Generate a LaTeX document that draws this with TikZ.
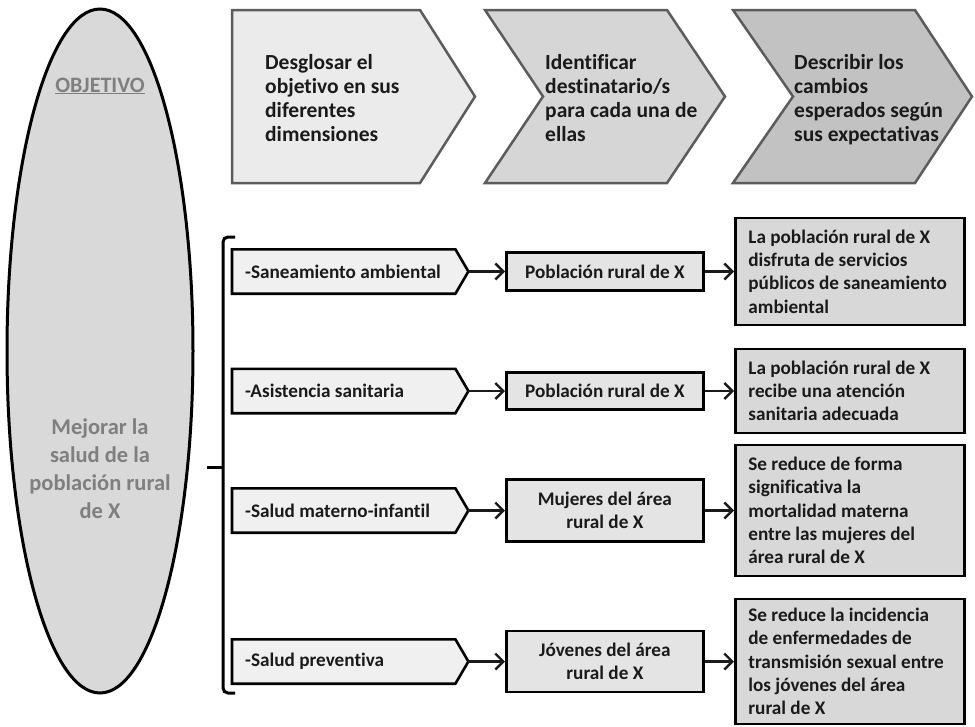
\documentclass[tikz,border=0pt]{standalone}
\usepackage{fontspec}
\setmainfont{Carlito}[Ligatures=CommonOff]
\usetikzlibrary{arrows.meta,shapes.geometric,backgrounds}

\definecolor{txt}{HTML}{1A1A1A}
\definecolor{objtxt}{HTML}{7F7F7F}
\definecolor{chevline}{HTML}{5C5C5C}
\definecolor{chevA}{HTML}{EBEBEB}
\definecolor{chevB}{HTML}{D6D6D6}
\definecolor{chevC}{HTML}{C2C2C2}
\definecolor{dimfill}{HTML}{F0F0F0}
\definecolor{destfill}{HTML}{E4E4E4}
\definecolor{chgfill}{HTML}{D8D8D8}
\definecolor{ellfill}{HTML}{D9D9D9}

\begin{document}
\begin{tikzpicture}[x=1pt,y=-1pt,
  chev/.style={draw=chevline, line width=2.5pt, line join=miter},
  headtxt/.style={anchor=north west, align=left, inner sep=0pt, text=txt,
    font=\fontsize{21.5}{24}\selectfont\bfseries},
  rowfont/.style={text=txt, font=\fontsize{19.2}{23.3}\selectfont\bfseries},
  dimbox/.style={rowfont, anchor=west, minimum width=223pt, minimum height=44pt,
    inner xsep=13pt, inner ysep=0pt, text width=197pt, align=flush left},
  dimshape/.style={draw=black, fill=dimfill, line width=2.6pt, line join=miter},
  destbox/.style={rowfont, draw=black, fill=destfill, line width=2.8pt, anchor=west,
    minimum width=197pt, inner sep=0pt, align=center},
  chgbox/.style={rowfont, draw=black, fill=chgfill, line width=2.8pt, anchor=west,
    minimum width=229pt, inner xsep=13pt, inner ysep=0pt, text width=203pt, align=flush left},
  link/.style={draw=txt, line width=2.4pt, -{Straight Barb[length=8pt,width=16pt]}},
  brace/.style={draw=black, line width=3pt, rounded corners=5pt}
]
\useasboundingbox (0,0) rectangle (975,726);

% objective ellipse
\node[ellipse, draw=black, fill=ellfill, line width=3pt, inner sep=0pt,
      minimum width=186pt, minimum height=684pt] (obj) at (100,351) {};
\node[anchor=base, inner sep=0pt, text=objtxt, font=\fontsize{22}{24}\selectfont\bfseries]
  (objtitle) at (100,92) {\underline{OBJETIVO}};
\node[anchor=north, inner sep=0pt, align=center, text=objtxt,
      font=\fontsize{22.5}{27.7}\selectfont\bfseries]
  (objtext) at (100,419) {Mejorar la\\salud de la\\población rural\\de X};

% step chevrons
\filldraw[chev, fill=chevA] (232,10) -- (420,10) -- (475,96.5) -- (420,183) -- (232,183) -- cycle;
\filldraw[chev, fill=chevB] (485,10) -- (667,10) -- (725,96.5) -- (667,183) -- (485,183) -- (543,96.5) -- cycle;
\filldraw[chev, fill=chevC] (733,10) -- (915,10) -- (972,96.5) -- (915,183) -- (733,183) -- (793,96.5) -- cycle;
\node[headtxt] (step1) at (265,54) {Desglosar el\\objetivo en sus\\diferentes\\dimensiones};
\node[headtxt] (step2) at (545,54) {Identificar\\destinatario/s\\para cada una de\\ellas};
\node[headtxt] (step3) at (794,54) {Describir los\\cambios\\esperados según\\sus expectativas};

% bracket grouping the dimensions
\draw[brace] (235,237) -- (223,237) -- (223,693) -- (235,693);
\draw[brace] (207,467) -- (223,467);

% dimensions
\node[dimbox] (s1) at (232,271.5) {-Saneamiento ambiental};
\node[dimbox] (s2) at (232,391) {-Asistencia sanitaria};
\node[dimbox] (s3) at (232,510.5) {-Salud materno-infantil};
\node[dimbox] (s4) at (232,661.5) {-Salud preventiva};
\foreach \i in {1,...,4} {
  \coordinate (t\i) at ([xshift=13pt]s\i.east);
  \begin{scope}[on background layer]
    \filldraw[dimshape] (s\i.north west) -- (s\i.north east) -- (t\i)
      -- (s\i.south east) -- (s\i.south west) -- cycle;
  \end{scope}
}

% recipients
\node[destbox, minimum height=38pt] (m1) at (505,271.5) {Población rural de X};
\node[destbox, minimum height=37pt] (m2) at (505,391) {Población rural de X};
\node[destbox, minimum height=62pt] (m3) at (505,510.5) {Mujeres del área\\rural de X};
\node[destbox, minimum height=61pt] (m4) at (505,661.5) {Jóvenes del área\\rural de X};

% expected changes
\node[chgbox, minimum height=107pt] (r1) at (734,271.5)
  {La población rural de X\\disfruta de servicios\\públicos de saneamiento\\ambiental};
\node[chgbox, minimum height=84pt] (r2) at (734,391)
  {La población rural de X\\recibe una atención\\sanitaria adecuada};
\node[chgbox, minimum height=131pt] (r3) at (734,510.5)
  {Se reduce de forma\\significativa la\\mortalidad materna\\entre las mujeres del\\área rural de X};
\node[chgbox, minimum height=125pt] (r4) at (734,661.5)
  {Se reduce la incidencia\\de enfermedades de\\transmisión sexual entre\\los jóvenes del área\\rural de X};

% connectors
\foreach \i in {1,...,4} {
  \draw[link] (t\i) -- (m\i.west);
  \draw[link] (m\i.east) -- (r\i.west);
}
\end{tikzpicture}
\end{document}
